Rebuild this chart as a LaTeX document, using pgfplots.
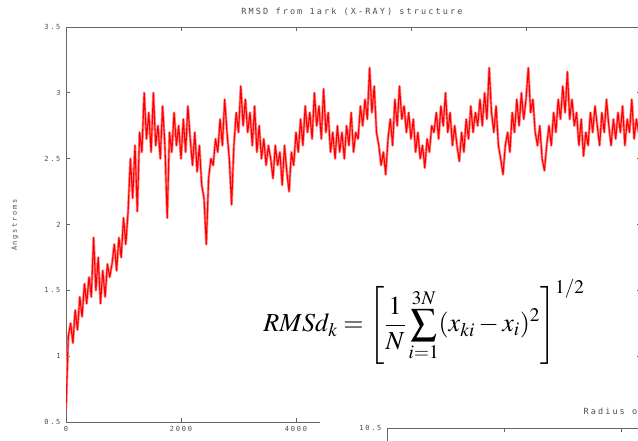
\documentclass[border=0pt]{standalone}
\usepackage{mathptmx}
\usepackage{pgfplots}
\pgfplotsset{compat=1.18}
\usepackage{fontspec}
\newfontfamily\pix[LetterSpace=25]{DejaVu Sans Mono}
\definecolor{txt}{gray}{0.3}
\definecolor{frm}{gray}{0.4}
\pgfplotstableread{
t v
0 0.60
40 1.15
80 1.25
120 1.10
160 1.35
200 1.20
240 1.45
280 1.30
320 1.55
360 1.40
400 1.60
440 1.45
480 1.90
520 1.50
560 1.75
600 1.40
640 1.65
680 1.45
720 1.70
760 1.60
800 1.70
840 1.85
880 1.65
920 1.90
960 1.75
1000 2.05
1040 1.85
1080 2.10
1120 2.50
1160 2.20
1200 2.60
1240 2.10
1280 2.70
1320 2.55
1360 3.00
1400 2.65
1440 2.85
1480 2.55
1520 3.00
1560 2.60
1600 2.75
1640 2.50
1680 2.90
1720 2.60
1760 2.05
1800 2.70
1840 2.55
1880 2.85
1920 2.60
1960 2.75
2000 2.50
2040 2.80
2080 2.55
2120 2.90
2160 2.65
2200 2.45
2240 2.70
2280 2.40
2320 2.60
2360 2.30
2400 2.20
2440 1.85
2480 2.35
2520 2.50
2560 2.45
2600 2.65
2640 2.55
2680 2.80
2720 2.60
2760 2.95
2800 2.70
2840 2.50
2880 2.15
2920 2.60
2960 2.85
3000 2.70
3040 3.05
3080 2.75
3120 2.95
3160 2.70
3200 2.85
3240 2.60
3280 2.90
3320 2.55
3360 2.75
3400 2.50
3440 2.65
3480 2.45
3520 2.60
3560 2.50
3600 2.35
3640 2.60
3680 2.45
3720 2.55
3760 2.30
3800 2.60
3840 2.40
3880 2.25
3920 2.55
3960 2.45
4000 2.70
4040 2.55
4080 2.80
4120 2.60
4160 2.90
4200 2.70
4240 2.85
4280 2.65
4320 3.00
4360 2.75
4400 2.90
4440 2.65
4480 3.03
4520 2.70
4560 2.85
4600 2.55
4640 2.70
4680 2.50
4720 2.75
4760 2.55
4800 2.70
4840 2.50
4880 2.75
4920 2.60
4960 2.85
5000 2.55
5040 2.70
5080 2.65
5120 2.90
5160 2.75
5200 2.95
5240 2.80
5280 3.19
5320 2.85
5360 3.05
5400 2.70
5440 2.60
5480 2.45
5520 2.55
5560 2.38
5600 2.65
5640 2.80
5680 2.60
5720 2.95
5760 2.75
5800 3.05
5840 2.80
5880 2.90
5920 2.70
5960 2.85
6000 2.65
6040 2.80
6080 2.55
6120 2.70
6160 2.50
6200 2.60
6240 2.43
6280 2.65
6320 2.55
6360 2.75
6400 2.70
6440 2.85
6480 2.65
6520 2.90
6560 2.75
6600 3.00
6640 2.70
6680 2.85
6720 2.60
6760 2.75
6800 2.60
6840 2.48
6880 2.70
6920 2.55
6960 2.80
7000 2.65
7040 2.90
7080 2.70
7120 2.85
7160 2.75
7200 2.95
7240 2.75
7280 3.00
7320 2.80
7360 3.19
7400 2.85
7440 2.70
7480 2.90
7520 2.60
7560 2.50
7600 2.38
7640 2.60
7680 2.70
7720 2.55
7760 2.85
7800 2.70
7840 2.95
7880 2.75
7920 3.00
7960 2.80
8000 2.95
8040 3.19
8080 2.85
8120 2.95
8160 2.70
8200 2.60
8240 2.75
8280 2.50
8320 2.41
8360 2.60
8400 2.75
8440 2.60
8480 2.85
8520 2.70
8560 2.95
8600 2.80
8640 3.05
8680 2.85
8720 3.16
8760 2.80
8800 2.95
8840 2.75
8880 2.85
8920 2.60
8960 2.80
9000 2.52
9040 2.70
9080 2.60
9120 2.85
9160 2.70
9200 2.90
9240 2.75
9280 2.60
9320 2.85
9360 2.70
9400 2.95
9440 2.75
9480 2.60
9520 2.80
9560 2.65
9600 2.85
9640 2.70
9680 2.90
9720 2.60
9760 2.80
9800 2.70
9840 2.95
9880 2.65
9920 2.80
9960 2.70
10000 2.75
}\rmsd
\begin{document}
\begin{tikzpicture}
\path[use as bounding box] (0pt,0pt) rectangle (638pt,-440pt);
\clip (0pt,0pt) rectangle (638pt,-440pt);
\begin{axis}[
  at={(66pt,-422pt)}, anchor=south west,
  scale only axis, width=575pt, height=395pt,
  xmin=0, xmax=10000, ymin=0.5, ymax=3.5,
  xtick={0,2000,4000,6000,8000,10000},
  ytick={0.5,1,1.5,2,2.5,3,3.5},
  yticklabels={0.5,1,1.5,2,2.5,3,3.5},
  xticklabels={0,2000,4000,6000,8000,10000},
  tick align=inside, major tick length=4pt,
  axis line style={frm, line width=0.7pt},
  tick style={frm, line width=0.7pt},
  ticklabel style={font=\pix\fontsize{7}{7}\selectfont, text=txt},
  xticklabel style={yshift=-1pt},
  yticklabel style={xshift=-2pt},
  clip=true,
]
\addplot[red!45, line width=2.6pt, line join=round] table[x=t, y=v] {\rmsd};
\addplot[red, line width=1.1pt, line join=round] table[x=t, y=v] {\rmsd};
\end{axis}
\node[font=\pix\fontsize{8.5}{9}\selectfont, text=txt] at (352pt,-12pt) {RMSD from 1ark (X-RAY) structure};
\node[font=\pix\fontsize{7}{7}\selectfont, text=txt, rotate=90] at (15pt,-225pt) {Angstroms};
\fill[white] (320pt,-398pt) rectangle (642pt,-442pt);
\begin{axis}[
  at={(387pt,-428pt)}, anchor=north west,
  scale only axis, width=585pt, height=200pt,
  xmin=0, xmax=10000, ymin=9, ymax=10.5,
  xtick={0,2000,4000,6000,8000,10000}, xticklabels={},
  ytick={10.5}, yticklabels={10.5},
  tick align=inside, major tick length=4pt,
  axis line style={frm, line width=0.7pt},
  tick style={frm, line width=0.7pt},
  ticklabel style={font=\pix\fontsize{7}{7}\selectfont, text=txt},
  yticklabel style={xshift=-2pt},
]
\end{axis}
\node[font=\pix\fontsize{8.5}{9}\selectfont, text=txt, anchor=west] at (580pt,-412pt) {Radius of gyration};
\node at (424pt,-322pt) {\fontsize{26}{30}\selectfont $\displaystyle RMSd_k=\left[\frac{1}{N}\sum_{i=1}^{3N}(x_{ki}-x_i)^2\right]^{1/2}$};
\end{tikzpicture}
\end{document}
